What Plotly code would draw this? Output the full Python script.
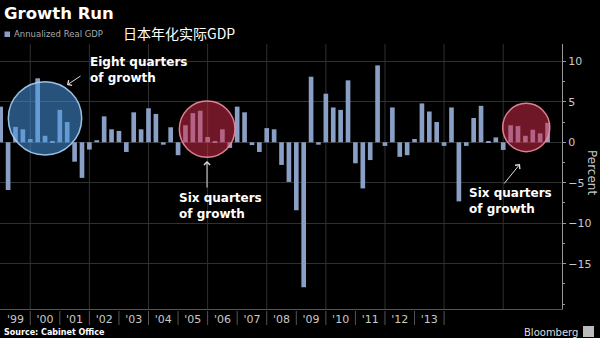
import plotly.graph_objects as go

# ---- data ----
quarters = [f"{1998 + (q + 3) // 4}Q{(q + 3) % 4 + 1}" for q in range(75)]  # 1998Q4 .. 2017Q2
gdp = [4.4, -5.9, 1.9, 1.6, 0.4, 7.9, 0.8, 0.1, 4.0, 2.5,
       -2.4, -4.4, -0.9, 0.25, 3.2, 1.6, 1.4, -1.2, 3.7, 1.6,
       4.2, 3.5, -0.3, 1.85, -1.6, 2.1, 3.6, 3.9, 0.65, 0.15,
       1.6, -0.7, 4.4, 3.7, -0.35, -1.2, 1.75, 1.6, -2.8, -4.9,
       -8.4, -17.9, 8.1, -0.3, 6.0, 4.3, 4.0, 7.65, -2.6, -5.7,
       -2.2, 9.5, -0.45, 4.3, -1.8, -1.6, 0.4, 4.8, 3.8, 2.5,
       -0.45, 4.3, -7.3, -0.45, 3.0, 4.5, 0.05, 0.6, -0.95, 2.1,
       2.0, 0.8, 1.55, 1.1, 2.4]
year_labels = ["'99", "'00", "'01", "'02", "'03", "'04", "'05", "'06",
               "'07", "'08", "'09", "'10", "'11", "'12", "'13"]
y_ticks = [-15, -10, -5, 0, 5, 10]

BAR = "#8a9fc6"
GRID = "#303030"
TXT = "#c8c8c8"

xs = list(range(len(gdp)))
year_pos = [2 + 4 * k for k in range(len(year_labels))]
grid_x = [4 + 8 * k for k in range(9)]
sep_x = [4 * k for k in range(1, len(year_labels) + 1)]

# plot-area geometry in pixels
PL, PW, PT, PH = 0, 562, 44, 265


def fx(px):
    return (px - PL) / PW


def fy(py):
    return (PT + PH - py) / PH


fig = go.Figure()
fig.add_trace(go.Bar(x=xs, y=gdp, marker_color=BAR, marker_line_width=0,
                     customdata=quarters, hovertemplate="%{customdata}: %{y}<extra></extra>"))

shapes = []
for gx in grid_x:
    shapes.append(dict(type="line", xref="x", yref="paper", x0=gx, x1=gx, y0=0, y1=1,
                       line=dict(color=GRID, width=1), layer="below"))
for sx in sep_x:
    shapes.append(dict(type="line", xref="x", yref="paper", x0=sx, x1=sx, y0=fy(311), y1=fy(325),
                       line=dict(color="#555", width=1)))
# highlight circles
shapes.append(dict(type="circle", xref="x", yref="y", x0=1.03, x1=10.96, y0=-1.57, y1=7.48,
                   fillcolor="rgba(70,150,225,0.55)", line=dict(color="rgba(170,210,245,0.9)", width=1.5),
                   layer="above"))
shapes.append(dict(type="circle", xref="x", yref="y", x0=24.17, x1=31.7, y0=-1.85, y1=5.1,
                   fillcolor="rgba(215,45,75,0.52)", line=dict(color="rgba(240,140,160,0.9)", width=1.5),
                   layer="above"))
shapes.append(dict(type="circle", xref="x", yref="y", x0=67.93, x1=74.3, y0=-1.16, y1=4.81,
                   fillcolor="rgba(215,45,75,0.52)", line=dict(color="rgba(240,140,160,0.9)", width=1.5),
                   layer="above"))
# legend swatch
shapes.append(dict(type="rect", xref="paper", yref="paper", x0=fx(4.5), x1=fx(10), y0=fy(31.5), y1=fy(37),
                   fillcolor=BAR, line=dict(width=0)))
# bloomberg icon
shapes.append(dict(type="rect", xref="paper", yref="paper", x0=fx(583), x1=fx(594), y0=fy(326), y1=fy(337),
                   fillcolor="#bbbbbb", line=dict(width=0)))

ann = []
B = "DejaVu Sans"
ann.append(dict(text="<b>Growth Run</b>", x=fx(2), y=fy(13), xref="paper", yref="paper",
                xanchor="left", yanchor="middle", showarrow=False,
                font=dict(family=B, size=16.5, color="white")))
ann.append(dict(text="Annualized Real GDP", x=fx(12), y=fy(34.5), xref="paper", yref="paper",
                xanchor="left", yanchor="middle", showarrow=False,
                font=dict(family=B, size=8.5, color="#aaaaaa")))
ann.append(dict(text="日本年化实际GDP", x=fx(121), y=fy(33.5), xref="paper", yref="paper",
                xanchor="left", yanchor="middle", showarrow=False,
                font=dict(family="Noto Sans CJK SC", size=14, color="white")))
ann.append(dict(text="<b>Eight quarters</b><br><b>of growth</b>", x=fx(88), y=fy(70), xref="paper", yref="paper",
                xanchor="left", yanchor="middle", showarrow=False, align="left",
                font=dict(family=B, size=12, color="white")))
ann.append(dict(text="<b>Six quarters</b><br><b>of growth</b>", x=fx(177), y=fy(206), xref="paper", yref="paper",
                xanchor="left", yanchor="middle", showarrow=False, align="left",
                font=dict(family=B, size=12, color="white")))
ann.append(dict(text="<b>Six quarters</b><br><b>of growth</b>", x=fx(467), y=fy(201), xref="paper", yref="paper",
                xanchor="left", yanchor="middle", showarrow=False, align="left",
                font=dict(family=B, size=12, color="white")))
# arrows
for hx, hy, ax, ay in [(67, 85, 15, -10), (207, 161, 0, 28), (520, 164, -17, 21)]:
    ann.append(dict(text="", x=fx(hx), y=fy(hy), xref="paper", yref="paper", showarrow=True,
                    ax=ax, ay=ay, arrowcolor="#dddddd", arrowwidth=1, arrowhead=4, arrowsize=1.2,
                    standoff=0, startstandoff=0))
ann.append(dict(text="Percent", x=fx(592), y=fy(172), xref="paper", yref="paper", textangle=90,
                xanchor="center", yanchor="middle", showarrow=False,
                font=dict(family=B, size=12, color=TXT)))
ann.append(dict(text="<b>Source: Cabinet Office</b>", x=fx(2), y=fy(332), xref="paper", yref="paper",
                xanchor="left", yanchor="middle", showarrow=False,
                font=dict(family=B, size=8, color="white")))
ann.append(dict(text="Bloomberg", x=fx(580), y=fy(332), xref="paper", yref="paper",
                xanchor="right", yanchor="middle", showarrow=False,
                font=dict(family=B, size=10, color="#dddddd")))

fig.update_layout(
    width=600, height=338,
    margin=dict(l=PL, r=600 - PL - PW, t=PT, b=338 - PT - PH),
    paper_bgcolor="black", plot_bgcolor="black",
    showlegend=False, bargap=0.37,
    shapes=shapes, annotations=ann,
    xaxis=dict(range=[-0.095, 75.955], tickvals=year_pos, ticktext=year_labels,
               showgrid=False, zeroline=False, showline=True, linecolor="#555", linewidth=1,
               ticks="", tickfont=dict(family=B, size=11, color=TXT), fixedrange=True),
    yaxis=dict(range=[-20.6, 12.14], side="right", tickvals=y_ticks,
               showgrid=True, gridcolor=GRID, gridwidth=1, zeroline=False,
               showline=True, linecolor="#999", linewidth=1,
               ticks="outside", ticklen=3, tickcolor="#999",
               minor=dict(dtick=2.5, ticks="outside", ticklen=2, tickcolor="#999", showgrid=False),
               tickfont=dict(family=B, size=11, color=TXT), fixedrange=True),
)

fig.write_html("out.html")
